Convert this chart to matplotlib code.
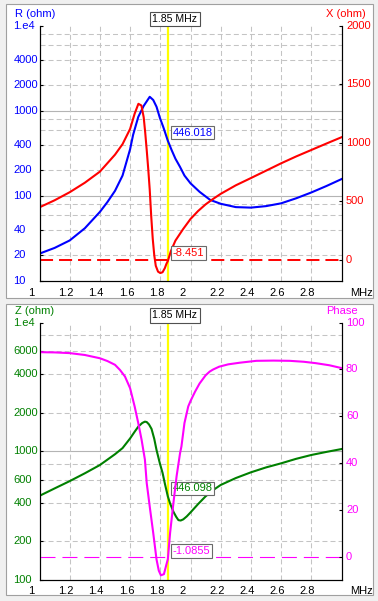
import matplotlib
matplotlib.use("Agg")
import matplotlib.pyplot as plt
from matplotlib import transforms
from matplotlib.patches import Rectangle

plt.rcParams["font.family"] = ["Liberation Sans", "DejaVu Sans"]
plt.rcParams["font.size"] = 8
plt.rcParams["lines.scale_dashes"] = False

W, H = 378, 601
MARK = 1.85

# ------------------------------------------------------------ data (top panel)
r_freq = [1.0, 1.1, 1.2, 1.3, 1.4, 1.45, 1.5, 1.55, 1.6, 1.62, 1.654, 1.69, 1.73,
          1.753, 1.775, 1.797, 1.82, 1.85, 1.875, 1.9, 1.93, 1.96, 2.0, 2.06, 2.13,
          2.2, 2.3, 2.4, 2.5, 2.6, 2.7, 2.8, 2.9, 3.0]
r_ohm = [21, 24.5, 30, 41.7, 65, 85, 115, 174, 355, 525, 851, 1148, 1469,
         1349, 1122, 832, 646, 446.018, 347, 275, 221, 174, 141, 112, 90,
         81, 74, 73, 76, 82, 94, 110, 131, 158]

x_freq = [1.0, 1.1, 1.2, 1.3, 1.4, 1.5, 1.55, 1.6, 1.63, 1.655, 1.675, 1.69, 1.70,
          1.71, 1.72, 1.73, 1.74, 1.75, 1.76, 1.77, 1.785, 1.80, 1.815, 1.83, 1.84,
          1.85, 1.87, 1.9, 1.95, 2.0, 2.05, 2.1, 2.15, 2.2, 2.3, 2.4, 2.5, 2.6, 2.7,
          2.8, 2.9, 3.0]
x_ohm = [450, 510, 579, 660, 755, 900, 990, 1120, 1250, 1335, 1320, 1220, 1090,
         940, 780, 600, 370, 180, 40, -50, -100, -112, -105, -70, -35,
         -8.451, 75, 165, 262, 350, 418, 475, 522, 565, 638, 700, 763, 826, 885,
         940, 995, 1049]

# ------------------------------------------------------------ data (bottom panel)
z_freq = [1.0, 1.1, 1.2, 1.3, 1.4, 1.5, 1.55, 1.6, 1.63, 1.654, 1.68, 1.698, 1.71,
          1.725, 1.742, 1.76, 1.775, 1.797, 1.815, 1.83, 1.85, 1.865, 1.887, 1.905,
          1.92, 1.935, 1.952, 1.975, 2.0, 2.05, 2.1, 2.15, 2.2, 2.3, 2.4, 2.5, 2.6,
          2.7, 2.8, 2.9, 3.0]
z_ohm = [451, 515, 587, 675, 783, 950, 1060, 1260, 1420, 1555, 1660, 1702, 1690,
         1620, 1494, 1250, 1025, 807, 680, 563, 446.098, 393, 339, 310,
         292, 290, 296, 312, 335, 389, 447, 500, 548, 620, 687, 750, 807,
         875, 937, 990, 1042]

ph_freq = [1.0, 1.1, 1.2, 1.3, 1.4, 1.45, 1.5, 1.533, 1.566, 1.6, 1.63, 1.654, 1.676,
           1.687, 1.698, 1.71, 1.731, 1.753, 1.775, 1.79, 1.804, 1.824, 1.84, 1.85,
           1.865, 1.887, 1.908, 1.931, 1.94, 1.96, 1.985, 2.0, 2.03, 2.06, 2.1, 2.127,
           2.15, 2.19, 2.25, 2.327, 2.436, 2.55, 2.657, 2.75, 2.83, 2.92, 3.0]
ph_deg = [87.4, 87.3, 87.0, 86.2, 84.8, 83.6, 82.0, 79.8, 77.0, 72.0, 64.2, 57.1, 50.0,
          45.7, 41.5, 31.5, 20.9, 10.2, -1.2, -6.0, -8.0, -7.5, -3.5, -1.0855,
          10.2, 23.0, 34.4, 44.3, 47.1, 57.1, 64.2, 66.5, 70.5, 74.0, 77.5, 79.1,
          80.0, 81.2, 82.2, 82.9, 83.7, 83.8, 83.7, 83.3, 82.7, 81.8, 80.6]

# ------------------------------------------------------------ axes / labels
freq_ticks = [1.0, 1.2, 1.4, 1.6, 1.8, 2.0, 2.2, 2.4, 2.6, 2.8]
freq_labels = ["1", "1.2", "1.4", "1.6", "1.8", "2", "2.2", "2.4", "2.6", "2.8"]

r_ticks = [10, 20, 40, 100, 200, 400, 1000, 2000, 4000, 10000]
r_labels = ["10", "20", "40", "100", "200", "400", "1000", "2000", "4000", "1.e4"]
r_grid = [20, 40, 60, 80, 200, 400, 600, 800, 2000, 4000, 6000, 8000]
r_solid = [100, 1000]
x_ticks = [0, 500, 1000, 1500, 2000]

z_ticks = [100, 200, 400, 600, 1000, 2000, 4000, 6000, 10000]
z_labels = ["100", "200", "400", "600", "1000", "2000", "4000", "6000", "1.e4"]
z_grid = [200, 400, 600, 800, 2000, 4000, 6000, 8000]
z_solid = [1000]
ph_ticks = [0, 20, 40, 60, 80, 100]

BLUE, RED, GREEN, MAG = "#0000ff", "#ff0000", "#008000", "#ff00ff"
GRID = "#c4c4c4"


def fx(px):
    return px / W


def fy(py):
    return 1 - py / H


def panel(fig, top, bottom, left_ax, right_ax):
    """Draw one analyser panel. top/bottom are pixel rows of the plot area."""
    (lf, lv, lcol, lticks, llabels, lgrid, lsolid, ltitle, lmark, lfmt) = left_ax
    (rf, rv, rcol, rticks, rlim, rtitle, rmark, rfmt, zdash, zlw) = right_ax

    ax = fig.add_axes([fx(39.5), fy(bottom), fx(341.5) - fx(39.5), fy(top) - fy(bottom)])
    ax.set_facecolor("none")
    ax.set_xlim(1, 3)
    ax.set_yscale("log")
    ax.set_ylim(lticks[0], lticks[-1])
    ax2 = ax.twinx()
    ax2.set_ylim(*rlim)

    for a in (ax, ax2):
        a.spines["top"].set_visible(False)
        for s in ("left", "right", "bottom"):
            a.spines[s].set_linewidth(0.8)
            a.spines[s].set_color("black")
        a.set_xticks([])
        a.minorticks_off()
    ax.set_yticks(lticks)
    ax.tick_params(axis="y", direction="in", length=2.5, width=0.8, labelleft=False)
    ax2.set_yticks(rticks)
    ax2.tick_params(axis="y", direction="in", length=2.5, width=0.8, labelright=False)

    # grid
    for v in lgrid:
        ax.axhline(v, color=GRID, lw=0.75, ls=(0, (3.6, 2.2)), zorder=0.5)
    for v in lsolid:
        ax.axhline(v, color="#b4b4b4", lw=0.8, zorder=0.5)
    for v in freq_ticks[1:]:
        ax.axvline(v, color=GRID, lw=0.75, ls=(0, (3.6, 2.2)), zorder=0.5)

    # marker line
    ax.axvline(MARK, color="#ffff00", lw=1.6, zorder=1)
    ax2.axhline(0, color=rcol, lw=zlw, ls=(0, zdash), zorder=1.5)

    ax.plot(lf, lv, color=lcol, lw=1.5, zorder=2)
    ax2.plot(rf, rv, color=rcol, lw=1.5, zorder=2)

    box = dict(boxstyle="square,pad=0.15", fc="white", ec="#6a6a6a", lw=0.8)
    ax.text(MARK, lmark, lfmt, color=lcol, ha="left", va="center", zorder=5,
            transform=transforms.offset_copy(ax.transData, fig, x=4.5, y=8, units="dots"),
            bbox=box)
    ax2.text(MARK, rmark, rfmt, color=rcol, ha="left", va="center", zorder=5,
             transform=transforms.offset_copy(ax2.transData, fig, x=4.5, y=8, units="dots"),
             bbox=box)

    # tick labels, drawn as text so they can sit like the original
    lt = transforms.blended_transform_factory(fig.transFigure, ax.transData)
    for v, s in zip(lticks, llabels):
        fig.text(fx(13.5), v, s, color=lcol, ha="left", va="center", transform=lt)
    rt = transforms.blended_transform_factory(fig.transFigure, ax2.transData)
    for v in rticks:
        fig.text(fx(346), v, str(v), color=rcol, ha="left", va="center", transform=rt)
    xt = transforms.offset_copy(
        transforms.blended_transform_factory(ax.transData, fig.transFigure),
        fig, x=-11.5, units="dots")
    for v, s in zip(freq_ticks, freq_labels):
        fig.text(v, fy(bottom + 11.5), s, color="black", ha="left", va="center", transform=xt)
    fig.text(fx(350), fy(bottom + 11.5), "MHz", ha="left", va="center")

    fig.text(fx(15), fy(top - 12), ltitle, color=lcol, ha="left", va="center")
    fig.text(fx(326), fy(top - 12), rtitle, color=rcol, ha="left", va="center")
    fig.text(fx(175), fy(top - 7.2), "1.85 MHz", ha="center", va="center", fontsize=7.6,
             bbox=dict(boxstyle="square,pad=0.2", fc="white", ec="#505050", lw=0.8))
    return ax, ax2


fig = plt.figure(figsize=(W / 100, H / 100), dpi=100, facecolor="#f0f0f0")
for (y0, y1) in [(4, 298), (304, 595)]:
    fig.patches.append(Rectangle((fx(6), fy(y1)), fx(373) - fx(6), fy(y0) - fy(y1),
                                 transform=fig.transFigure, fc="white", ec="#a0a0a0",
                                 lw=0.8, zorder=-1))

panel(fig, 26, 281,
      (r_freq, r_ohm, BLUE, r_ticks, r_labels, r_grid, r_solid, "R (ohm)", 446.018, "446.018"),
      (x_freq, x_ohm, RED, x_ticks, (-180, 2000), "X (ohm)", -8.451, "-8.451", (9.4, 4.3), 1.4))
panel(fig, 322.7, 580,
      (z_freq, z_ohm, GREEN, z_ticks, z_labels, z_grid, z_solid, "Z (ohm)", 446.098, "446.098"),
      (ph_freq, ph_deg, MAG, ph_ticks, (-10, 100), "Phase", -1.0855, "-1.0855", (10.8, 5.0), 0.8))

fig.savefig("out.png", dpi=100, facecolor=fig.get_facecolor())
